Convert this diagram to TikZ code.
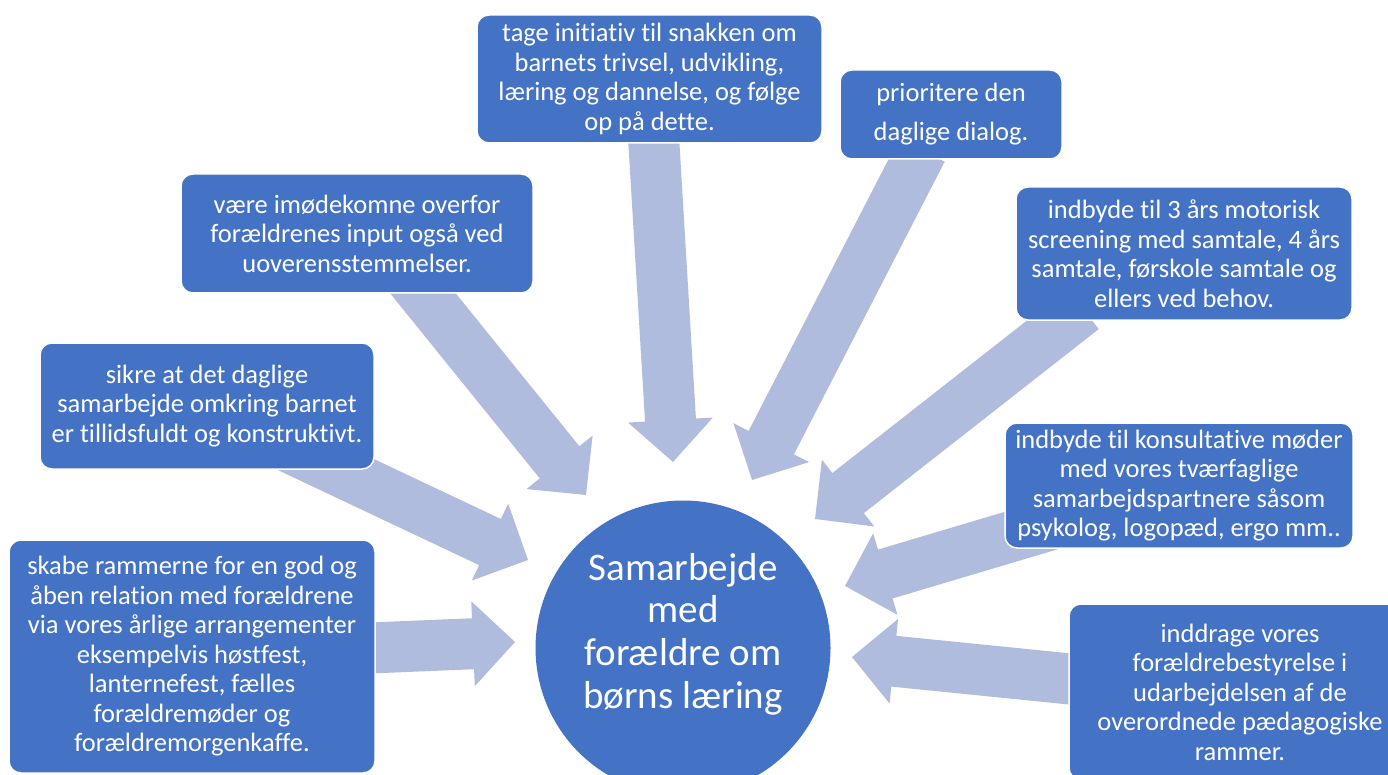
\documentclass[tikz,border=0pt]{standalone}
\usepackage{fontspec}
\setmainfont{Carlito}[Ligatures={NoCommon}]
\usetikzlibrary{calc}
\definecolor{boxblue}{HTML}{4472C4}
\definecolor{arrowblue}{HTML}{AFBCDE}
\tikzset{
  box/.style={draw=white, line width=1.5pt, fill=boxblue, rounded corners=12pt,
    text=white, align=center, inner sep=0pt,
    font=\fontsize{26.5pt}{29.5pt}\selectfont},
  hub/.style={circle, fill=boxblue, inner sep=0pt, minimum size=295pt},
  hubtext/.style={text=white, align=center, inner sep=0pt,
    font=\fontsize{39pt}{42.6pt}\selectfont},
  blockarrow/.style={fill=arrowblue}
}
\newcommand\blockarr[2]{%
  \path[blockarrow] let \p1=(#1), \p2=(#2),
     \n1={atan2(\y2-\y1,\x2-\x1)}, \n2={veclen(\x2-\x1,\y2-\y1)} in
     [shift={(\p1)}, rotate=\n1]
     (0pt,-25.5pt) -- ({\n2*1pt-42pt},-25.5pt) -- ({\n2*1pt-42pt},-42.5pt)
     -- ({\n2*1pt},0pt) -- ({\n2*1pt-42pt},42.5pt) -- ({\n2*1pt-42pt},25.5pt)
     -- (0pt,25.5pt) -- cycle;}
\begin{document}
\begin{tikzpicture}[x=1pt,y=-1pt]
\useasboundingbox (0,0) rectangle (1388,775);
\clip (0,0) rectangle (1388,775);
\fill[white] (0,0) rectangle (1388,775);

% arrow end points
\coordinate (t1) at (652.5,120);  \coordinate (h1) at (673,462);
\coordinate (t2) at (922,150);    \coordinate (h2) at (752,480);
\coordinate (t3) at (1083,309);   \coordinate (h3) at (815,519);
\coordinate (t4) at (1080,516);   \coordinate (h4) at (845,586);
\coordinate (t5) at (1090,681);   \coordinate (h5) at (852,657);
\coordinate (t6) at (370,648);    \coordinate (h6) at (515,642);
\coordinate (t7) at (257,432);    \coordinate (h7) at (528,560);
\coordinate (t8) at (400,265);    \coordinate (h8) at (586,495);

\blockarr{t1}{h1}
\blockarr{t2}{h2}
\blockarr{t3}{h3}
\blockarr{t4}{h4}
\blockarr{t5}{h5}
\blockarr{t6}{h6}
\blockarr{t7}{h7}
\blockarr{t8}{h8}

% centre
\node[hub] (hub) at (683,648) {};
\node[hubtext] (hubtxt) at (683,634) {Samarbejde\\med\\forældre om\\børns læring};

% boxes
\node[box, minimum width=345pt, minimum height=128pt] (b1) at (649.5,79)
  {tage initiativ til snakken om\\barnets trivsel, udvikling,\\læring og dannelse, og følge\\op på dette.};
\node[box, minimum width=222pt, minimum height=89pt,
      font=\fontsize{26.5pt}{39pt}\selectfont] (b2) at (951,114.5)
  {prioritere den\\daglige dialog.};
\node[box, minimum width=336pt, minimum height=133pt] (b3) at (1184,253.5)
  {indbyde til 3 års motorisk\\screening med samtale, 4 års\\samtale, førskole samtale og\\ellers ved behov.};
\node[box, minimum width=348pt, minimum height=125pt] (b4) at (1179,485.5)
  {indbyde til konsultative møder\\med vores tværfaglige\\samarbejdspartnere såsom\\psykolog, logopæd, ergo mm..};
\node[box, minimum width=342pt, minimum height=176pt] (b5) at (1240,692)
  {inddrage vores\\forældrebestyrelse i\\udarbejdelsen af de\\overordnede pædagogiske\\rammer.};
\node[box, minimum width=352pt, minimum height=119pt] (b6) at (357,233.5)
  {være imødekomne overfor\\forældrenes input også ved\\uoverensstemmelser.};
\node[box, minimum width=334pt, minimum height=126pt] (b7) at (207,406)
  {sikre at det daglige\\samarbejde omkring barnet\\er tillidsfuldt og konstruktivt.};
\node[box, minimum width=366pt, minimum height=233pt] (b8) at (192,656.5)
  {skabe rammerne for en god og\\åben relation med forældrene\\via vores årlige arrangementer\\eksempelvis høstfest,\\lanternefest, fælles\\forældremøder og\\forældremorgenkaffe.};
\end{tikzpicture}
\end{document}
